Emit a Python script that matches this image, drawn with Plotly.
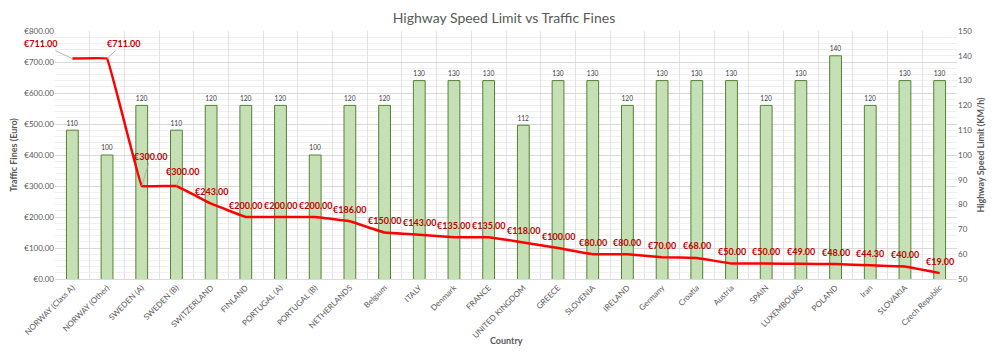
import plotly.graph_objects as go

countries = ["NORWAY (Class A)", "NORWAY (Other)", "SWEDEN (A)", "SWEDEN (B)", "SWITZERLAND",
             "FINLAND", "PORTUGAL (A)", "PORTUGAL (B)", "NETHERLANDS", "Belgium", "ITALY",
             "Denmark", "FRANCE", "UNITED KINGDOM", "GREECE", "SLOVENIA", "IRELAND", "Germany",
             "Croatia", "Austria", "SPAIN", "LUXEMBOURG", "POLAND", "Iran", "SLOVAKIA",
             "Czech Republic"]
fines = [711, 711, 300, 300, 243, 200, 200, 200, 186, 150, 143, 135, 135, 118, 100, 80, 80,
         70, 68, 50, 50, 49, 48, 44.3, 40, 19]
speeds = [110, 100, 120, 110, 120, 120, 120, 100, 120, 120, 130, 130, 130, 112, 130, 130, 120,
          130, 130, 130, 120, 130, 140, 120, 130, 130]

# custom label offsets (pixels) for manually placed labels: index -> (ax, ay)
custom = {0: (-32, -15), 1: (16, -15), 2: (9, -30), 3: (6, -15)}

FONT = "Lato"
fig = go.Figure()

fig.add_trace(go.Bar(
    x=countries, y=speeds, yaxis="y", width=0.34,
    marker=dict(color="#C5E0B4", line=dict(color="#548235", width=1)),
    text=[str(s) for s in speeds], textposition="outside",
    textfont=dict(family=FONT, size=8, color="#404040"),
    cliponaxis=False, name="Speed",
))

fig.add_trace(go.Scatter(
    x=countries, y=fines, yaxis="y2", mode="lines",
    line=dict(color="#FF0000", width=2.5, shape="spline", smoothing=0.12),
    name="Fines",
))

annotations = []
for i, (c, f) in enumerate(zip(countries, fines)):
    txt = "€{:,.2f}".format(f)
    font = dict(family=FONT, size=9, color="#C00000", weight="bold")
    if i in custom:
        ax, ay = custom[i]
        annotations.append(dict(
            x=c, y=f, xref="x", yref="y2", text=txt, showarrow=True,
            arrowhead=0, arrowwidth=0.8, arrowcolor="#A6A6A6", ax=ax, ay=ay,
            standoff=0, font=font,
        ))
    else:
        annotations.append(dict(
            x=c, y=f, xref="x", yref="y2", text=txt, showarrow=False, yshift=12,
            font=font,
        ))

# x-axis title placed as an annotation below the rotated tick labels
annotations.append(dict(
    x=0.5, y=0, xref="paper", yref="paper", xanchor="center", yanchor="top",
    yshift=-54, showarrow=False, text="<b>Country</b>",
    font=dict(family=FONT, size=9, color="#595959"),
))

fig.update_layout(
    width=992, height=348,
    margin=dict(l=47, r=43, t=23, b=77, autoexpand=False),
    paper_bgcolor="white", plot_bgcolor="white",
    showlegend=False, bargap=0.66,
    title=dict(text="Highway Speed Limit vs Traffic Fines", x=0.5, xanchor="center",
               y=0.986, yanchor="top",
               font=dict(family=FONT, size=14, color="#595959")),
    font=dict(family=FONT, color="#595959"),
    xaxis=dict(
        type="category", tickson="boundaries", showgrid=True, gridcolor="#E3E3E3",
        gridwidth=1, tickangle=-45, tickfont=dict(family=FONT, size=8, color="#595959"),
        automargin=False,
        showline=True, linecolor="#D9D9D9", ticks="", range=[-0.5, len(countries) - 0.5],
    ),
    yaxis=dict(
        side="right", range=[50, 150], dtick=10, showgrid=False, zeroline=False,
        tickfont=dict(family=FONT, size=8, color="#595959"), automargin=False,
        title=dict(text="Highway Speed Limit (KM/h)",
                   font=dict(family=FONT, size=9, color="#595959", weight="bold"), standoff=6),
    ),
    yaxis2=dict(
        overlaying="y", side="left", range=[0, 800], dtick=100, tickprefix="€",
        tickformat=",.2f", showgrid=True, gridcolor="#D9D9D9", zeroline=False,
        minor=dict(dtick=20, showgrid=True, gridcolor="#F0F0F0"), automargin=False,
        tickfont=dict(family=FONT, size=8, color="#595959"),
        title=dict(text="Traffic Fines (Euro)",
                   font=dict(family=FONT, size=9, color="#595959", weight="bold"), standoff=6),
    ),
    annotations=annotations,
)

fig.write_html("out.html")
